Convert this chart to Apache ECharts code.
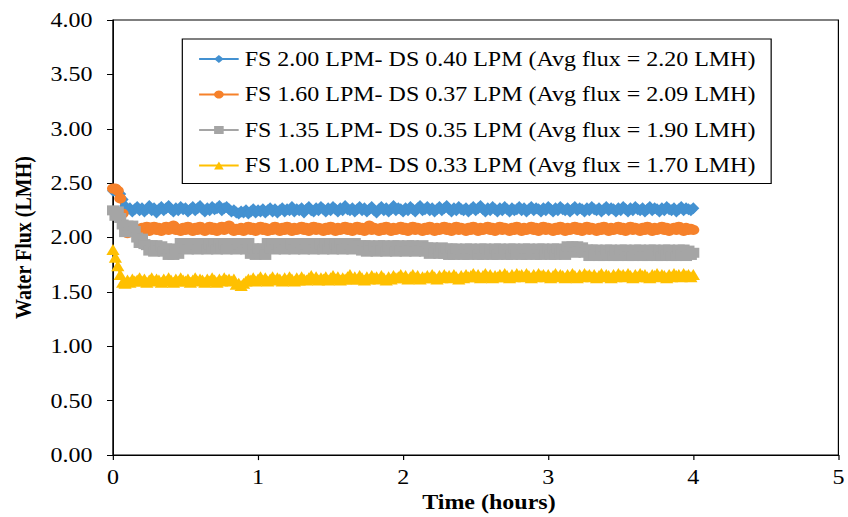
<!DOCTYPE html>
<html>
<head>
<meta charset="utf-8">
<title>Water Flux vs Time</title>
<script src="https://cdn.jsdelivr.net/npm/echarts@6/dist/echarts.min.js"></script>
<style>
  html, body { margin: 0; padding: 0; background: #fff; overflow: hidden; }
  /* the figure is laid out at its native width and widened 1.2x horizontally */
  #chart { width: 707px; height: 517px; transform: scaleX(1.19943); transform-origin: 0 0; }
</style>
</head>
<body>
<div id="chart"></div>
<script>
// Sampling times (minutes)
const timeMinutes = [
  0, 1, 2, 3, 4, 5, 6, 7, 8, 9,
  10, 11, 12, 13, 14, 15, 16, 17, 18, 19,
  20, 21, 22, 23, 24, 25, 26, 27, 28, 29,
  30, 31, 32, 33, 34, 35, 36, 37, 38, 39,
  40, 41, 42, 43, 44, 45, 46, 47, 48, 49,
  50, 51, 52, 53, 54, 55, 56, 57, 58, 59,
  60, 61, 62, 63, 64, 65, 66, 67, 68, 69,
  70, 71, 72, 73, 74, 75, 76, 77, 78, 79,
  80, 81, 82, 83, 84, 85, 86, 87, 88, 89,
  90, 91, 92, 93, 94, 95, 96, 97, 98, 99,
  100, 101, 102, 103, 104, 105, 106, 107, 108, 109,
  110, 111, 112, 113, 114, 115, 116, 117, 118, 119,
  120, 121, 122, 123, 124, 125, 126, 127, 128, 129,
  130, 131, 132, 133, 134, 135, 136, 137, 138, 139,
  140, 141, 142, 143, 144, 145, 146, 147, 148, 149,
  150, 151, 152, 153, 154, 155, 156, 157, 158, 159,
  160, 161, 162, 163, 164, 165, 166, 167, 168, 169,
  170, 171, 172, 173, 174, 175, 176, 177, 178, 179,
  180, 181, 182, 183, 184, 185, 186, 187, 188, 189,
  190, 191, 192, 193, 194, 195, 196, 197, 198, 199,
  200, 201, 202, 203, 204, 205, 206, 207, 208, 209,
  210, 211, 212, 213, 214, 215, 216, 217, 218, 219,
  220, 221, 222, 223, 224, 225, 226, 227, 228, 229,
  230, 231, 232, 233, 234, 235, 236, 237, 238, 239,
  240
];

const seriesNames = [
  'FS 2.00 LPM- DS 0.40 LPM (Avg flux = 2.20 LMH)',
  'FS 1.60 LPM- DS 0.37 LPM (Avg flux = 2.09 LMH)',
  'FS 1.35 LPM- DS 0.35 LPM (Avg flux = 1.90 LMH)',
  'FS 1.00 LPM- DS 0.33 LPM (Avg flux = 1.70 LMH)'
];

// Water flux (LMH), one reading per minute
const fluxFS200 = [
  2.43, 2.43, 2.42, 2.40, 2.35, 2.29, 2.26, 2.27, 2.24, 2.26,
  2.28, 2.25, 2.27, 2.24, 2.26, 2.29, 2.25, 2.27, 2.23, 2.26,
  2.28, 2.25, 2.27, 2.29, 2.26, 2.24, 2.27, 2.25, 2.28, 2.26,
  2.27, 2.24, 2.26, 2.28, 2.25, 2.27, 2.29, 2.26, 2.24, 2.27,
  2.25, 2.28, 2.26, 2.27, 2.29, 2.25, 2.27, 2.28, 2.26, 2.24,
  2.25, 2.23, 2.22, 2.24, 2.23, 2.25, 2.22, 2.24, 2.26, 2.23,
  2.25, 2.24, 2.26, 2.23, 2.25, 2.27, 2.24, 2.26, 2.23, 2.25,
  2.27, 2.24, 2.26, 2.25, 2.28, 2.24, 2.26, 2.25, 2.27, 2.23,
  2.26, 2.28, 2.25, 2.24, 2.27, 2.25, 2.28, 2.26, 2.24, 2.27,
  2.25, 2.28, 2.26, 2.24, 2.27, 2.25, 2.29, 2.26, 2.25, 2.27,
  2.24, 2.26, 2.28, 2.25, 2.27, 2.24, 2.26, 2.28, 2.25, 2.23,
  2.26, 2.28, 2.25, 2.27, 2.24, 2.26, 2.29, 2.25, 2.27, 2.26,
  2.24, 2.27, 2.25, 2.28, 2.26, 2.24, 2.27, 2.29, 2.25, 2.26,
  2.28, 2.25, 2.27, 2.24, 2.26, 2.28, 2.25, 2.27, 2.29, 2.26,
  2.24, 2.27, 2.25, 2.28, 2.26, 2.25, 2.27, 2.24, 2.26, 2.28,
  2.25, 2.27, 2.29, 2.26, 2.24, 2.27, 2.25, 2.28, 2.26, 2.24,
  2.27, 2.25, 2.28, 2.26, 2.24, 2.27, 2.25, 2.26, 2.28, 2.25,
  2.27, 2.24, 2.26, 2.28, 2.25, 2.27, 2.26, 2.24, 2.27, 2.25,
  2.28, 2.26, 2.24, 2.27, 2.25, 2.28, 2.26, 2.25, 2.27, 2.24,
  2.26, 2.28, 2.25, 2.27, 2.26, 2.24, 2.27, 2.25, 2.28, 2.26,
  2.25, 2.27, 2.24, 2.26, 2.28, 2.25, 2.27, 2.26, 2.24, 2.27,
  2.25, 2.28, 2.26, 2.24, 2.27, 2.25, 2.28, 2.26, 2.25, 2.27,
  2.24, 2.26, 2.28, 2.25, 2.27, 2.26, 2.24, 2.27, 2.25, 2.28,
  2.26, 2.25, 2.27, 2.24, 2.26, 2.28, 2.25, 2.27, 2.26, 2.25,
  2.27
];

const fluxFS160 = [
  2.45, 2.45, 2.43, 2.36, 2.22, 2.08, 2.04, 2.05, 2.06, 2.08,
  2.08, 2.06, 2.09, 2.07, 2.10, 2.06, 2.08, 2.10, 2.07, 2.09,
  2.06, 2.08, 2.10, 2.07, 2.09, 2.11, 2.07, 2.08, 2.06, 2.09,
  2.07, 2.10, 2.08, 2.06, 2.09, 2.07, 2.10, 2.08, 2.06, 2.08,
  2.10, 2.07, 2.09, 2.06, 2.08, 2.10, 2.07, 2.09, 2.11, 2.08,
  2.06, 2.08, 2.07, 2.09, 2.06, 2.08, 2.10, 2.07, 2.09, 2.06,
  2.08, 2.10, 2.07, 2.09, 2.06, 2.08, 2.07, 2.10, 2.08, 2.06,
  2.09, 2.07, 2.10, 2.08, 2.06, 2.09, 2.07, 2.08, 2.10, 2.07,
  2.09, 2.06, 2.08, 2.10, 2.07, 2.09, 2.08, 2.06, 2.09, 2.07,
  2.10, 2.08, 2.06, 2.09, 2.07, 2.08, 2.10, 2.07, 2.09, 2.06,
  2.08, 2.10, 2.07, 2.09, 2.06, 2.08, 2.11, 2.07, 2.09, 2.08,
  2.06, 2.09, 2.07, 2.10, 2.08, 2.06, 2.09, 2.07, 2.08, 2.10,
  2.07, 2.09, 2.06, 2.08, 2.10, 2.07, 2.09, 2.08, 2.06, 2.09,
  2.07, 2.10, 2.08, 2.06, 2.09, 2.07, 2.08, 2.10, 2.07, 2.09,
  2.06, 2.08, 2.10, 2.07, 2.09, 2.08, 2.06, 2.09, 2.07, 2.10,
  2.08, 2.06, 2.09, 2.07, 2.08, 2.10, 2.07, 2.09, 2.06, 2.08,
  2.10, 2.07, 2.09, 2.08, 2.06, 2.09, 2.07, 2.10, 2.08, 2.06,
  2.09, 2.07, 2.08, 2.10, 2.07, 2.09, 2.06, 2.08, 2.10, 2.07,
  2.09, 2.08, 2.06, 2.09, 2.07, 2.10, 2.08, 2.06, 2.09, 2.07,
  2.08, 2.10, 2.07, 2.09, 2.06, 2.08, 2.10, 2.07, 2.09, 2.08,
  2.06, 2.09, 2.07, 2.10, 2.08, 2.06, 2.09, 2.07, 2.08, 2.10,
  2.07, 2.09, 2.06, 2.08, 2.10, 2.07, 2.09, 2.08, 2.06, 2.09,
  2.07, 2.10, 2.08, 2.06, 2.09, 2.07, 2.08, 2.10, 2.07, 2.09,
  2.06, 2.08, 2.09, 2.07, 2.10, 2.08, 2.06, 2.09, 2.07, 2.08,
  2.07
];

const fluxFS135 = [
  2.25, 2.20, 2.24, 2.18, 2.12, 2.05, 2.11, 2.05, 2.11, 2.06,
  2.00, 1.95, 1.99, 1.94, 1.93, 1.88, 1.93, 1.87, 1.93, 1.88,
  1.92, 1.87, 1.90, 1.84, 1.90, 1.84, 1.89, 1.85, 1.95, 1.90,
  1.95, 1.89, 1.95, 1.90, 1.94, 1.89, 1.95, 1.90, 1.95, 1.89,
  1.94, 1.90, 1.95, 1.89, 1.95, 1.90, 1.94, 1.89, 1.95, 1.90,
  1.95, 1.89, 1.94, 1.90, 1.95, 1.89, 1.95, 1.85, 1.90, 1.84,
  1.90, 1.85, 1.90, 1.84, 1.95, 1.90, 1.95, 1.89, 1.94, 1.90,
  1.95, 1.89, 1.95, 1.90, 1.94, 1.89, 1.95, 1.90, 1.95, 1.89,
  1.94, 1.90, 1.95, 1.89, 1.95, 1.90, 1.94, 1.89, 1.95, 1.90,
  1.95, 1.89, 1.94, 1.90, 1.95, 1.89, 1.95, 1.90, 1.94, 1.89,
  1.95, 1.90, 1.93, 1.88, 1.93, 1.87, 1.93, 1.88, 1.92, 1.87,
  1.93, 1.88, 1.93, 1.87, 1.92, 1.88, 1.93, 1.87, 1.93, 1.88,
  1.92, 1.87, 1.93, 1.88, 1.93, 1.87, 1.92, 1.88, 1.93, 1.87,
  1.91, 1.85, 1.91, 1.86, 1.90, 1.85, 1.91, 1.85, 1.90, 1.84,
  1.90, 1.84, 1.90, 1.85, 1.89, 1.84, 1.90, 1.84, 1.90, 1.85,
  1.89, 1.84, 1.90, 1.84, 1.90, 1.85, 1.89, 1.84, 1.90, 1.84,
  1.90, 1.85, 1.89, 1.84, 1.90, 1.84, 1.90, 1.85, 1.89, 1.84,
  1.90, 1.84, 1.90, 1.85, 1.89, 1.84, 1.90, 1.84, 1.90, 1.85,
  1.89, 1.84, 1.90, 1.84, 1.90, 1.85, 1.89, 1.84, 1.92, 1.87,
  1.92, 1.86, 1.92, 1.87, 1.91, 1.86, 1.89, 1.83, 1.89, 1.84,
  1.89, 1.83, 1.88, 1.83, 1.89, 1.84, 1.89, 1.83, 1.88, 1.83,
  1.89, 1.84, 1.89, 1.83, 1.88, 1.83, 1.89, 1.84, 1.89, 1.83,
  1.88, 1.83, 1.89, 1.84, 1.89, 1.83, 1.88, 1.83, 1.89, 1.84,
  1.89, 1.83, 1.88, 1.83, 1.89, 1.84, 1.89, 1.83, 1.88, 1.84,
  1.86
];

const fluxFS100 = [
  1.89, 1.82, 1.74, 1.66, 1.59, 1.58, 1.61, 1.59, 1.62, 1.60,
  1.61, 1.63, 1.60, 1.62, 1.59, 1.61, 1.63, 1.60, 1.62, 1.61,
  1.59, 1.62, 1.60, 1.63, 1.61, 1.59, 1.62, 1.60, 1.63, 1.61,
  1.60, 1.62, 1.59, 1.61, 1.63, 1.60, 1.62, 1.61, 1.59, 1.62,
  1.60, 1.63, 1.61, 1.59, 1.62, 1.60, 1.63, 1.61, 1.62, 1.60,
  1.62, 1.57, 1.58, 1.56, 1.58, 1.60, 1.62, 1.61, 1.63, 1.60,
  1.62, 1.64, 1.61, 1.63, 1.60, 1.62, 1.64, 1.61, 1.63, 1.62,
  1.60, 1.63, 1.61, 1.64, 1.62, 1.60, 1.63, 1.61, 1.64, 1.62,
  1.61, 1.63, 1.65, 1.62, 1.64, 1.61, 1.63, 1.62, 1.64, 1.61,
  1.63, 1.65, 1.62, 1.64, 1.61, 1.63, 1.62, 1.64, 1.66, 1.62,
  1.64, 1.62, 1.65, 1.63, 1.61, 1.64, 1.62, 1.65, 1.63, 1.64,
  1.62, 1.65, 1.63, 1.61, 1.64, 1.62, 1.65, 1.63, 1.64, 1.66,
  1.63, 1.65, 1.62, 1.64, 1.66, 1.63, 1.65, 1.62, 1.64, 1.63,
  1.65, 1.63, 1.66, 1.64, 1.62, 1.65, 1.63, 1.66, 1.64, 1.65,
  1.63, 1.66, 1.64, 1.62, 1.65, 1.63, 1.66, 1.64, 1.65, 1.67,
  1.64, 1.66, 1.63, 1.65, 1.67, 1.64, 1.66, 1.63, 1.65, 1.64,
  1.66, 1.64, 1.67, 1.65, 1.63, 1.66, 1.64, 1.67, 1.65, 1.66,
  1.64, 1.67, 1.65, 1.63, 1.66, 1.64, 1.67, 1.65, 1.66, 1.64,
  1.66, 1.63, 1.65, 1.67, 1.64, 1.66, 1.65, 1.63, 1.66, 1.64,
  1.67, 1.65, 1.63, 1.66, 1.64, 1.67, 1.65, 1.66, 1.64, 1.66,
  1.63, 1.65, 1.67, 1.64, 1.66, 1.65, 1.63, 1.66, 1.64, 1.67,
  1.65, 1.66, 1.64, 1.67, 1.65, 1.63, 1.66, 1.64, 1.67, 1.65,
  1.66, 1.64, 1.63, 1.66, 1.65, 1.67, 1.64, 1.66, 1.65, 1.63,
  1.66, 1.64, 1.67, 1.65, 1.66, 1.64, 1.67, 1.65, 1.66, 1.64,
  1.66
];

const fluxSeries = [fluxFS200, fluxFS160, fluxFS135, fluxFS100];
const seriesColors = ['#4391D1', '#F6812A', '#A5A5A5', '#FFC000'];
const seriesSymbols = ['diamond', 'circle', 'rect', 'triangle'];
const plotSymbolSizes = [[10, 12], 10, 10, [11, 11]];

const FONT = "'Liberation Serif', 'Times New Roman', serif";

function pairs(values) {
  const n = Math.min(values.length, timeMinutes.length);
  const out = [];
  for (let i = 0; i < n; i++) out.push([timeMinutes[i] / 60, values[i]]);
  return out;
}

const chart = echarts.init(document.getElementById('chart'), null, { renderer: 'svg' });

chart.setOption({
  animation: false,
  backgroundColor: '#fff',
  textStyle: { fontFamily: FONT, color: '#000' },
  grid: {
    left: 94.2, right: 4.2, top: 20, bottom: 59,
    show: true, borderColor: '#000', borderWidth: 1
  },
  legend: {
    orient: 'vertical',
    left: 152, top: 39,
    padding: [10, 13, 8, 13],
    itemGap: 15.5,
    itemWidth: 33,
    itemHeight: 10,
    borderColor: '#000',
    borderWidth: 1,
    backgroundColor: '#fff',
    textStyle: { fontFamily: FONT, fontSize: 20, color: '#000' },
    data: seriesNames
  },
  xAxis: {
    type: 'value',
    min: 0, max: 5, interval: 1,
    name: 'Time (hours)',
    nameLocation: 'middle',
    nameGap: 34,
    nameTextStyle: { fontFamily: FONT, fontSize: 20, fontWeight: 'bold', color: '#000', padding: [0, 0, 0, 22] },
    axisLine: { onZero: false, lineStyle: { color: '#000', width: 1 } },
    axisTick: { show: true, inside: false, length: 5, lineStyle: { color: '#000' } },
    axisLabel: { fontFamily: FONT, fontSize: 20, color: '#000', margin: 12 },
    splitLine: { show: false }
  },
  yAxis: {
    type: 'value',
    min: 0, max: 4, interval: 0.5,
    name: 'Water Flux (LMH)',
    nameLocation: 'middle',
    nameGap: 65,
    nameRotate: 90,
    nameTextStyle: { fontFamily: FONT, fontSize: 20, fontWeight: 'bold', color: '#000' },
    axisLine: { show: true, lineStyle: { color: '#000', width: 1 } },
    axisTick: { show: true, inside: false, length: 5, lineStyle: { color: '#000' } },
    axisLabel: { fontFamily: FONT, fontSize: 20, color: '#000', margin: 17, formatter: v => v.toFixed(2) },
    splitLine: { show: false }
  },
  series: fluxSeries.map((vals, i) => ({
    name: seriesNames[i],
    type: 'line',
    data: pairs(vals),
    symbol: seriesSymbols[i],
    symbolSize: plotSymbolSizes[i],
    showSymbol: true,
    showAllSymbol: true,
    color: seriesColors[i],
    lineStyle: { color: seriesColors[i], width: 2 },
    itemStyle: { color: seriesColors[i], borderWidth: 0 },
    emphasis: { disabled: true }
  }))
});
</script>
</body>
</html>
